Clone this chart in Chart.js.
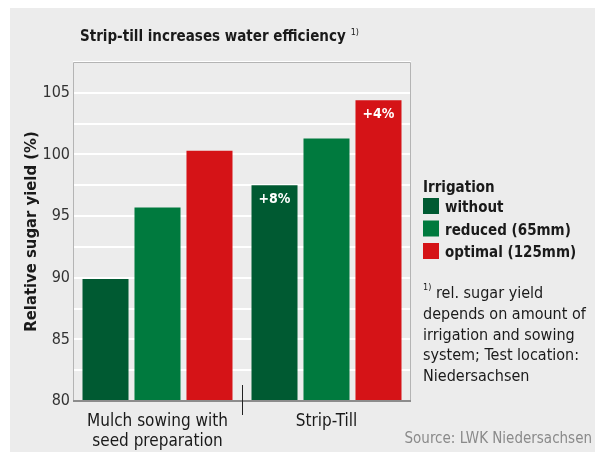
<!DOCTYPE html>
<html lang="en">
<head>
<meta charset="UTF-8">
<title>Strip-till increases water efficiency</title>
<style>
  html, body { margin: 0; padding: 0; background: #ececec; overflow: hidden; }
  canvas { display: block; }
</style>
</head>
<body>
<canvas id="yieldChart" width="595" height="452"></canvas>
<script src="https://cdn.jsdelivr.net/npm/chart.js@4.4.1/dist/chart.umd.min.js"></script>
<script>
  // values
  const categories = [['Mulch sowing with', 'seed preparation'], 'Strip-Till'];
  const irrigation = ['without', 'reduced (65mm)', 'optimal (125mm)'];
  const withoutValues = [89.9, 97.5];
  const reducedValues = [95.7, 101.3];
  const optimalValues = [100.3, 104.4];
  const withoutLabels = [null, '+8%'];
  const reducedLabels = [null, null];
  const optimalLabels = [null, '+4%'];
  const yLabels = [80, 85, 90, 95, 100, 105];
  const footnote = ['rel. sugar yield', 'depends on amount of', 'irrigation and sowing', 'system; Test location:', 'Niedersachsen'];

  const colors = ['#005a32', '#007a3e', '#d51317'];
  const FONT = "'Liberation Sans Narrow', 'DejaVu Sans Condensed', 'Liberation Sans', sans-serif";

  // grey panel behind everything
  const background = {
    id: 'background',
    beforeDraw(chart) {
      const ctx = chart.ctx;
      ctx.save();
      ctx.fillStyle = '#fff';
      ctx.fillRect(0, 0, chart.width, chart.height);
      ctx.fillStyle = '#ececec';
      ctx.fillRect(10, 8, chart.width - 10, chart.height - 8);
      ctx.restore();
    }
  };

  // frame round the plot + separator tick between the groups
  const frame = {
    id: 'frame',
    afterDatasetsDraw(chart) {
      const ctx = chart.ctx;
      const a = chart.chartArea;
      const x = chart.scales.x;
      ctx.save();
      ctx.strokeStyle = '#b4b4b4';
      ctx.lineWidth = 1;
      ctx.beginPath();
      ctx.moveTo(a.left + 0.5, a.bottom);
      ctx.lineTo(a.left + 0.5, a.top + 0.5);
      ctx.lineTo(a.right - 0.5, a.top + 0.5);
      ctx.lineTo(a.right - 0.5, a.bottom);
      ctx.stroke();
      ctx.strokeStyle = '#8c8c8c';
      ctx.lineWidth = 2;
      ctx.beginPath();
      ctx.moveTo(a.left, a.bottom);
      ctx.lineTo(a.right, a.bottom);
      ctx.stroke();
      const sep = (x.getPixelForValue(0) + x.getPixelForValue(1)) / 2;
      ctx.strokeStyle = '#222';
      ctx.lineWidth = 1;
      ctx.beginPath();
      ctx.moveTo(Math.round(sep) + 0.5, a.bottom - 16);
      ctx.lineTo(Math.round(sep) + 0.5, a.bottom + 14);
      ctx.stroke();
      ctx.restore();
    }
  };

  // white "+x%" labels inside the bars
  const barLabels = {
    id: 'barLabels',
    afterDatasetsDraw(chart) {
      const ctx = chart.ctx;
      ctx.save();
      ctx.fillStyle = '#fff';
      ctx.font = 'bold 14px ' + FONT;
      ctx.textAlign = 'center';
      ctx.textBaseline = 'middle';
      chart.data.datasets.forEach((ds, i) => {
        chart.getDatasetMeta(i).data.forEach((bar, j) => {
          const txt = ds.notes[j];
          if (txt) ctx.fillText(txt, bar.x, bar.y + 14);
        });
      });
      ctx.restore();
    }
  };

  // title, legend, footnote and source
  const extras = {
    id: 'extras',
    afterDraw(chart) {
      const ctx = chart.ctx;
      ctx.save();
      ctx.fillStyle = '#1a1a1a';
      ctx.textBaseline = 'alphabetic';
      ctx.font = 'bold 15px ' + FONT;
      const title = 'Strip-till increases water efficiency';
      ctx.fillText(title, 80, 41);
      const w = ctx.measureText(title).width;
      ctx.font = '9px ' + FONT;
      ctx.fillText('1)', 80 + w + 5, 35);

      ctx.font = 'bold 15px ' + FONT;
      ctx.fillText('Irrigation', 423, 192);
      chart.data.datasets.forEach((ds, i) => {
        const top = 198 + i * 22.5;
        ctx.fillStyle = ds.backgroundColor;
        ctx.fillRect(423, top, 16, 16);
        ctx.fillStyle = '#1a1a1a';
        ctx.fillText(ds.label, 445, top + 14);
      });

      ctx.font = '9px ' + FONT;
      ctx.fillText('1)', 423, 290);
      ctx.font = '16px ' + FONT;
      footnote.forEach((line, i) => {
        ctx.fillText(line, i === 0 ? 436 : 423, 298 + i * 20.8);
      });

      ctx.fillStyle = '#8a8a8a';
      ctx.font = '15px ' + FONT;
      ctx.textAlign = 'right';
      ctx.fillText('Source: LWK Niedersachsen', 592, 443);
      ctx.restore();
    }
  };

  new Chart(document.getElementById('yieldChart'), {
    type: 'bar',
    data: {
      labels: categories,
      datasets: [
        { label: irrigation[0], data: withoutValues, notes: withoutLabels, backgroundColor: colors[0] },
        { label: irrigation[1], data: reducedValues, notes: reducedLabels, backgroundColor: colors[1] },
        { label: irrigation[2], data: optimalValues, notes: optimalLabels, backgroundColor: colors[2] }
      ]
    },
    options: {
      responsive: false,
      animation: false,
      categoryPercentage: 0.923,
      barPercentage: 0.885,
      layout: { padding: { top: 62, right: 184, bottom: 0, left: 0 } },
      plugins: {
        legend: { display: false },
        tooltip: { enabled: false }
      },
      scales: {
        x: {
          grid: { display: false },
          border: { display: false },
          ticks: { color: '#1a1a1a', font: { family: FONT, size: 17, lineHeight: 1.15 }, padding: 3 },
          afterFit: s => { s.height = 51; }
        },
        y: {
          min: 80,
          max: 107.5,
          grid: { color: '#fff', lineWidth: 2, drawTicks: false },
          border: { display: false },
          ticks: {
            stepSize: 2.5,
            padding: 3,
            color: '#333',
            font: { family: FONT, size: 16 },
            callback: v => yLabels.includes(v) ? v : ''
          },
          title: {
            display: true,
            text: 'Relative sugar yield (%)',
            color: '#1a1a1a',
            font: { family: FONT, size: 16.5, weight: 'bold' },
            padding: { top: 22, bottom: 0 }
          },
          afterFit: s => { s.width = 73; }
        }
      }
    },
    plugins: [background, frame, barLabels, extras]
  });
</script>
</body>
</html>
